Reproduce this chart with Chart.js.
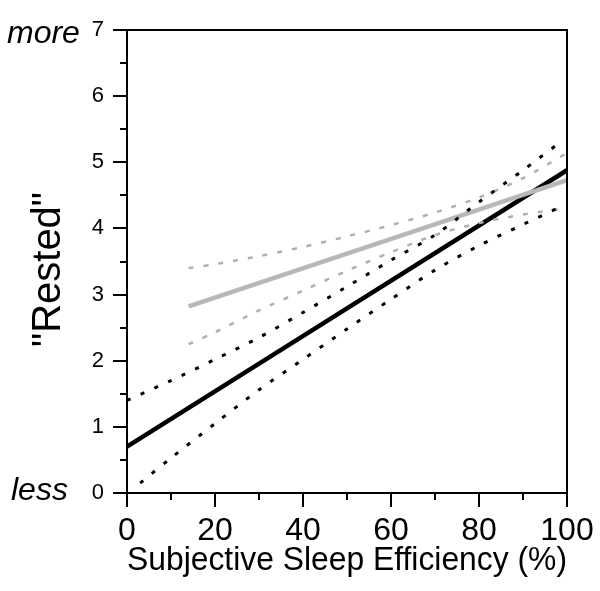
<!DOCTYPE html>
<html>
<head>
<meta charset="utf-8">
<script src="https://cdn.jsdelivr.net/npm/chart.js@4.4.1/dist/chart.umd.min.js"></script>
<style>
  html, body { margin: 0; padding: 0; background: #fff; }
</style>
</head>
<body>
<canvas id="chart" width="600" height="591"></canvas>
<script>
  // fitted lines (x = sleep efficiency %, y = "Rested")
  const fitBlackX = [0, 100];
  const fitBlackY = [0.70, 4.88];
  const ciBlackUpX = [0, 10, 20, 30, 40, 50, 60, 70, 80, 90, 99];
  const ciBlackUpY = [1.40, 1.70, 2.02, 2.35, 2.73, 3.12, 3.52, 3.90, 4.40, 4.88, 5.33];
  const ciBlackLoX = [3, 10, 20, 30, 40, 50, 60, 70, 80, 90, 99];
  const ciBlackLoY = [0.15, 0.53, 1.05, 1.56, 2.02, 2.48, 2.93, 3.37, 3.74, 4.06, 4.34];

  const fitGrayX = [14, 100];
  const fitGrayY = [2.82, 4.73];
  const ciGrayUpX = [14, 20, 30, 40, 50, 60, 70, 80, 90, 100];
  const ciGrayUpY = [3.40, 3.46, 3.58, 3.72, 3.88, 4.05, 4.24, 4.47, 4.76, 5.14];
  const ciGrayLoX = [14, 20, 30, 40, 50, 60, 70, 80, 90, 100];
  const ciGrayLoY = [2.25, 2.43, 2.76, 3.06, 3.36, 3.64, 3.90, 4.08, 4.21, 4.31];

  const xTicks = [0, 20, 40, 60, 80, 100];
  const yTicks = [0, 1, 2, 3, 4, 5, 6, 7];

  const FONT = "'Liberation Sans', Arial, Helvetica, sans-serif";
  const pts = (xs, ys) => xs.map((x, i) => ({ x: x, y: ys[i] }));

  const line = (xs, ys, color, width, dash) => ({
    data: pts(xs, ys),
    borderColor: color,
    borderWidth: width,
    borderDash: dash || [],
    borderCapStyle: "butt",
    pointRadius: 0,
    fill: false,
    tension: 0.3
  });

  // no extra room for overhanging tick labels: the plot box is fixed
  const noPad = (s) => {
    s.paddingLeft = 0;
    s.paddingRight = 0;
    s.paddingTop = 0;
    s.paddingBottom = 0;
  };

  // axis box + tick marks (major / minor) + "more" / "less" + y title
  const frame = {
    id: "frame",
    afterDatasetsDraw(chart) {
      const { ctx, chartArea: a, scales } = chart;
      ctx.save();
      ctx.strokeStyle = "#000";
      ctx.lineWidth = 2;
      ctx.strokeRect(a.left, a.top, a.right - a.left, a.bottom - a.top);
      ctx.beginPath();
      for (let v = 0; v <= 7; v += 0.5) {
        const y = Math.round(scales.y.getPixelForValue(v));
        const len = v % 1 === 0 ? 14 : 7;
        ctx.moveTo(a.left - len, y);
        ctx.lineTo(a.left, y);
      }
      for (let v = 0; v <= 100; v += 10) {
        const x = Math.round(scales.x.getPixelForValue(v));
        const len = v % 20 === 0 ? 14 : 7;
        ctx.moveTo(x, a.bottom);
        ctx.lineTo(x, a.bottom + len);
      }
      ctx.stroke();
      ctx.fillStyle = "#000";
      ctx.font = "italic 32px " + FONT;
      ctx.textAlign = "left";
      ctx.textBaseline = "alphabetic";
      ctx.fillText("more", 7, 43);
      ctx.fillText("less", 11, 500);

      // "Rested" sits a little below the middle of the axis
      ctx.translate(49, (a.top + a.bottom) / 2 + 8);
      ctx.rotate(-Math.PI / 2);
      ctx.font = "40px " + FONT;
      ctx.textAlign = "center";
      ctx.textBaseline = "middle";
      ctx.fillText("\"Rested\"", 0, 0);
      ctx.restore();
    }
  };

  new Chart(document.getElementById("chart"), {
    type: "line",
    data: {
      datasets: [
        line(ciBlackUpX, ciBlackUpY, "#000", 3, [4, 11]),
        line(ciBlackLoX, ciBlackLoY, "#000", 3, [4, 11]),
        line(ciGrayUpX, ciGrayUpY, "#b0b0b0", 2.5, [5, 10]),
        line(ciGrayLoX, ciGrayLoY, "#b0b0b0", 2.5, [5, 10]),
        line(fitGrayX, fitGrayY, "#b8b8b8", 4.5),
        line(fitBlackX, fitBlackY, "#000", 4.5)
      ]
    },
    options: {
      responsive: false,
      animation: false,
      devicePixelRatio: 1,
      layout: { padding: { top: 30, right: 33, left: 0, bottom: 0 } },
      plugins: { legend: { display: false }, tooltip: { enabled: false } },
      scales: {
        x: {
          type: "linear",
          min: 0,
          max: 100,
          afterBuildTicks: (s) => { s.ticks = xTicks.map((v) => ({ value: v })); },
          afterFit: (s) => { s.height = 98; noPad(s); },
          ticks: { color: "#000", font: { family: FONT, size: 32 }, padding: 19, maxRotation: 0 },
          grid: { display: true, drawOnChartArea: false, drawTicks: false },
          border: { display: false },
          title: {
            display: true,
            text: "Subjective Sleep Efficiency (%)",
            color: "#000",
            font: { family: FONT, size: 33 },
            padding: { top: 0, bottom: 10 }
          }
        },
        y: {
          min: 0,
          max: 7,
          afterBuildTicks: (s) => { s.ticks = yTicks.map((v) => ({ value: v })); },
          afterFit: (s) => { s.width = 127; noPad(s); },
          ticks: { color: "#000", font: { family: FONT, size: 22 }, padding: 23 },
          grid: { display: true, drawOnChartArea: false, drawTicks: false },
          border: { display: false },
          title: { display: false }
        }
      }
    },
    plugins: [frame]
  });
</script>
</body>
</html>
